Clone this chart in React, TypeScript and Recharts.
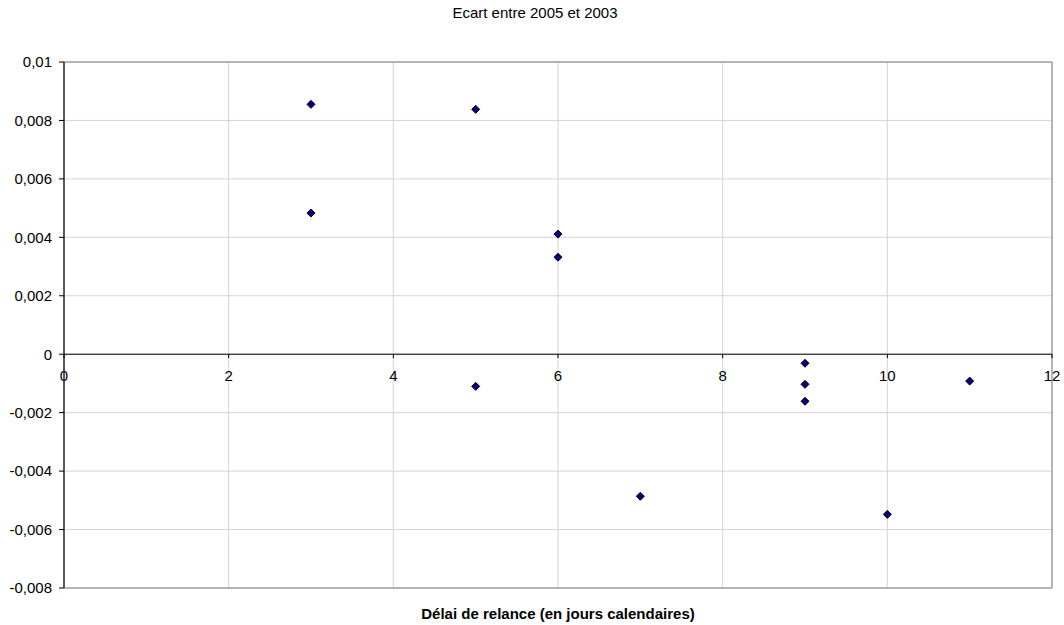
import React from "react";
import {
  ScatterChart,
  Scatter,
  XAxis,
  YAxis,
  CartesianGrid,
  ReferenceLine,
  ReferenceArea,
} from "recharts";

// délai de relance (jours) vs écart 2005-2003
const delais = [3, 3, 5, 5, 6, 6, 7, 9, 9, 9, 10, 11];
const ecarts = [
  0.00855, 0.00483, 0.00838, -0.0011, 0.00411, 0.00332, -0.00486, -0.00031,
  -0.00103, -0.00161, -0.00548, -0.00092,
];
const xTicks = [0, 2, 4, 6, 8, 10, 12];
const yTicks = [-0.008, -0.006, -0.004, -0.002, 0, 0.002, 0.004, 0.006, 0.008, 0.01];

const Y_MIN = -0.008;
const Y_MAX = 0.01;
const WIDTH = 1064;
const HEIGHT = 625;
const MARGIN = { top: 62, right: 12, bottom: 36, left: 4 };
const PLOT_H = HEIGHT - MARGIN.top - MARGIN.bottom - 1;
// distance from bottom of plot to the zero line (x axis crosses at y = 0)
const ZERO_SHIFT = (PLOT_H * (0 - Y_MIN)) / (Y_MAX - Y_MIN);

const points = delais.map((d, i) => ({ x: d, y: ecarts[i] }));

const font = "'Liberation Sans', Arial, sans-serif";

const fmt = (v: number) =>
  v === 0 ? "0" : String(parseFloat(v.toFixed(3))).replace(".", ",");

function XTick(props: any) {
  const { x, y, payload } = props;
  const zy = y - ZERO_SHIFT;
  return (
    <g>
      <line x1={x} x2={x} y1={zy} y2={zy + 4} stroke="#000" />
      <text
        x={x}
        y={zy + 27}
        textAnchor="middle"
        fontSize={15}
        fontFamily={font}
        fill="#000"
      >
        {payload.value}
      </text>
    </g>
  );
}

function Diamond(props: any) {
  const { cx, cy } = props;
  const r = 4;
  return (
    <polygon
      points={`${cx},${cy - r} ${cx + r},${cy} ${cx},${cy + r} ${cx - r},${cy}`}
      fill="#000080"
      stroke="#000"
      strokeWidth={1}
    />
  );
}

export default function App() {
  return (
    <div
      style={{
        position: "absolute",
        left: 0,
        top: 0,
        width: WIDTH,
        height: HEIGHT,
        background: "#fff",
        fontFamily: font,
      }}
    >
      <div
        style={{
          position: "absolute",
          top: 4,
          left: 0,
          width: 1070,
          textAlign: "center",
          fontSize: 15,
          color: "#000",
        }}
      >
        Ecart entre 2005 et 2003
      </div>
      <ScatterChart width={WIDTH} height={HEIGHT} margin={MARGIN}>
        <CartesianGrid stroke="#d4d4d4" />
        <ReferenceArea
          x1={0}
          x2={12}
          y1={Y_MIN}
          y2={Y_MAX}
          fill="none"
          stroke="#808080"
          strokeWidth={1}
          ifOverflow="visible"
        />
        <XAxis
          type="number"
          dataKey="x"
          domain={[0, 12]}
          ticks={xTicks}
          axisLine={false}
          tickLine={false}
          tickSize={0}
          tickMargin={0}
          height={1}
          tick={(p: any) => <XTick {...p} />}
          interval={0}
        />
        <YAxis
          type="number"
          dataKey="y"
          domain={[Y_MIN, Y_MAX]}
          ticks={yTicks}
          tickFormatter={fmt}
          width={60}
          tickSize={5}
          tickMargin={7}
          axisLine={{ stroke: "#000" }}
          tickLine={{ stroke: "#000" }}
          tick={{ fontSize: 15, fill: "#000", fontFamily: font }}
          interval={0}
        />
        <ReferenceLine y={0} stroke="#000" />
        <Scatter
          data={points}
          shape={(p: any) => <Diamond {...p} />}
          isAnimationActive={false}
        />
      </ScatterChart>
      <div
        style={{
          position: "absolute",
          top: 605,
          left: 64,
          width: 988,
          textAlign: "center",
          fontSize: 15,
          fontWeight: "bold",
          color: "#000",
        }}
      >
        Délai de relance (en jours calendaires)
      </div>
    </div>
  );
}
